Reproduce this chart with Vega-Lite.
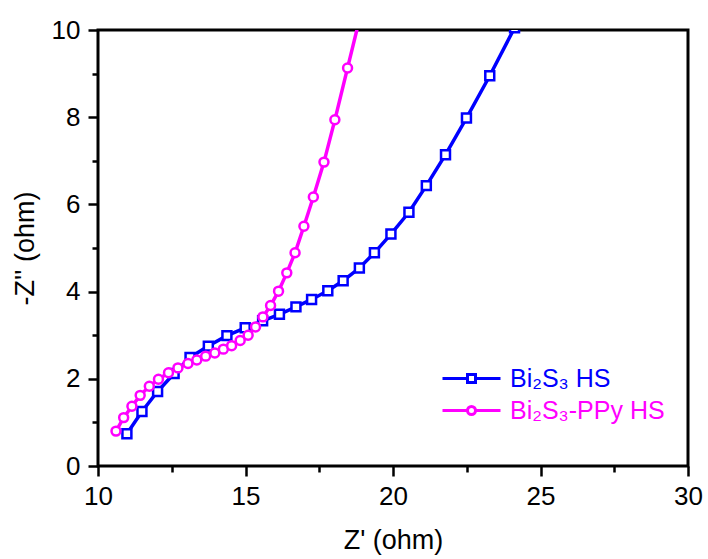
{
  "$schema": "https://vega.github.io/schema/vega-lite/v6.json",
  "width": 590,
  "height": 436,
  "autosize": "none",
  "padding": {"left": 98, "top": 30, "right": 20, "bottom": 93},
  "background": "white",
  "config": {
    "font": "Liberation Sans",
    "view": {"stroke": "black", "strokeWidth": 3},
    "axis": {"domain": false, "grid": false, "tickColor": "black", "tickWidth": 2.5, "labelFont": "Liberation Sans", "labelFontSize": 26, "labelColor": "black", "titleFont": "Liberation Sans", "titleFontSize": 27, "titleFontWeight": "normal", "titleColor": "black"}
  },
  "data": {
    "values": [
      {"s": "Bi₂S₃ HS", "i": 1, "x": 10.98, "y": 0.74},
      {"s": "Bi₂S₃ HS", "i": 2, "x": 11.49, "y": 1.25},
      {"s": "Bi₂S₃ HS", "i": 3, "x": 12.02, "y": 1.71},
      {"s": "Bi₂S₃ HS", "i": 4, "x": 12.58, "y": 2.12},
      {"s": "Bi₂S₃ HS", "i": 5, "x": 13.12, "y": 2.49},
      {"s": "Bi₂S₃ HS", "i": 6, "x": 13.74, "y": 2.75},
      {"s": "Bi₂S₃ HS", "i": 7, "x": 14.37, "y": 2.99},
      {"s": "Bi₂S₃ HS", "i": 8, "x": 14.99, "y": 3.17},
      {"s": "Bi₂S₃ HS", "i": 9, "x": 15.58, "y": 3.33},
      {"s": "Bi₂S₃ HS", "i": 10, "x": 16.15, "y": 3.48},
      {"s": "Bi₂S₃ HS", "i": 11, "x": 16.71, "y": 3.65},
      {"s": "Bi₂S₃ HS", "i": 12, "x": 17.24, "y": 3.82},
      {"s": "Bi₂S₃ HS", "i": 13, "x": 17.79, "y": 4.02},
      {"s": "Bi₂S₃ HS", "i": 14, "x": 18.31, "y": 4.25},
      {"s": "Bi₂S₃ HS", "i": 15, "x": 18.86, "y": 4.54},
      {"s": "Bi₂S₃ HS", "i": 16, "x": 19.37, "y": 4.89},
      {"s": "Bi₂S₃ HS", "i": 17, "x": 19.93, "y": 5.32},
      {"s": "Bi₂S₃ HS", "i": 18, "x": 20.54, "y": 5.82},
      {"s": "Bi₂S₃ HS", "i": 19, "x": 21.13, "y": 6.43},
      {"s": "Bi₂S₃ HS", "i": 20, "x": 21.78, "y": 7.14},
      {"s": "Bi₂S₃ HS", "i": 21, "x": 22.49, "y": 7.98},
      {"s": "Bi₂S₃ HS", "i": 22, "x": 23.28, "y": 8.95},
      {"s": "Bi₂S₃ HS", "i": 23, "x": 24.12, "y": 10.05},
      {"s": "Bi₂S₃-PPy HS", "i": 1, "x": 10.61, "y": 0.80},
      {"s": "Bi₂S₃-PPy HS", "i": 2, "x": 10.87, "y": 1.11},
      {"s": "Bi₂S₃-PPy HS", "i": 3, "x": 11.15, "y": 1.37},
      {"s": "Bi₂S₃-PPy HS", "i": 4, "x": 11.43, "y": 1.62},
      {"s": "Bi₂S₃-PPy HS", "i": 5, "x": 11.74, "y": 1.83},
      {"s": "Bi₂S₃-PPy HS", "i": 6, "x": 12.05, "y": 1.99},
      {"s": "Bi₂S₃-PPy HS", "i": 7, "x": 12.39, "y": 2.14},
      {"s": "Bi₂S₃-PPy HS", "i": 8, "x": 12.71, "y": 2.25},
      {"s": "Bi₂S₃-PPy HS", "i": 9, "x": 13.05, "y": 2.35},
      {"s": "Bi₂S₃-PPy HS", "i": 10, "x": 13.35, "y": 2.43},
      {"s": "Bi₂S₃-PPy HS", "i": 11, "x": 13.65, "y": 2.52},
      {"s": "Bi₂S₃-PPy HS", "i": 12, "x": 13.96, "y": 2.59},
      {"s": "Bi₂S₃-PPy HS", "i": 13, "x": 14.25, "y": 2.68},
      {"s": "Bi₂S₃-PPy HS", "i": 14, "x": 14.53, "y": 2.76},
      {"s": "Bi₂S₃-PPy HS", "i": 15, "x": 14.82, "y": 2.88},
      {"s": "Bi₂S₃-PPy HS", "i": 16, "x": 15.09, "y": 3.00},
      {"s": "Bi₂S₃-PPy HS", "i": 17, "x": 15.34, "y": 3.19},
      {"s": "Bi₂S₃-PPy HS", "i": 18, "x": 15.59, "y": 3.42},
      {"s": "Bi₂S₃-PPy HS", "i": 19, "x": 15.85, "y": 3.68},
      {"s": "Bi₂S₃-PPy HS", "i": 20, "x": 16.12, "y": 4.01},
      {"s": "Bi₂S₃-PPy HS", "i": 21, "x": 16.40, "y": 4.43},
      {"s": "Bi₂S₃-PPy HS", "i": 22, "x": 16.68, "y": 4.89},
      {"s": "Bi₂S₃-PPy HS", "i": 23, "x": 16.98, "y": 5.50},
      {"s": "Bi₂S₃-PPy HS", "i": 24, "x": 17.30, "y": 6.17},
      {"s": "Bi₂S₃-PPy HS", "i": 25, "x": 17.66, "y": 6.97},
      {"s": "Bi₂S₃-PPy HS", "i": 26, "x": 18.03, "y": 7.94},
      {"s": "Bi₂S₃-PPy HS", "i": 27, "x": 18.46, "y": 9.13},
      {"s": "Bi₂S₃-PPy HS", "i": 28, "x": 18.93, "y": 10.43}
    ]
  },
  "encoding": {
    "x": {
      "field": "x", "type": "quantitative",
      "scale": {"domain": [10, 30], "nice": false, "zero": false},
      "axis": {
        "title": "Z' (ohm)",
        "values": [10, 12.5, 15, 17.5, 20, 22.5, 25, 27.5, 30],
        "labelExpr": "datum.value % 5 === 0 ? datum.label : ''",
        "tickSize": {"condition": {"test": "datum.value % 5 === 0", "value": 10}, "value": 6},
        "labelPadding": 7,
        "labelFlush": false,
        "labelOverlap": false,
        "titlePadding": 18
      }
    },
    "y": {
      "field": "y", "type": "quantitative",
      "scale": {"domain": [0, 10], "nice": false},
      "axis": {
        "title": "-Z'' (ohm)",
        "values": [0, 1, 2, 3, 4, 5, 6, 7, 8, 9, 10],
        "labelExpr": "datum.value % 2 === 0 ? datum.label : ''",
        "tickSize": {"condition": {"test": "datum.value % 2 === 0", "value": 10}, "value": 6},
        "labelPadding": 8,
        "labelFlush": false,
        "labelOverlap": false,
        "titlePadding": 12
      }
    },
    "color": {
      "field": "s", "type": "nominal",
      "scale": {"domain": ["Bi₂S₃ HS", "Bi₂S₃-PPy HS"], "range": ["#0000ff", "#ff00ff"]}
    }
  },
  "layer": [
    {
      "mark": {"type": "line", "strokeWidth": 3.5, "clip": true},
      "encoding": {
        "order": {"field": "i", "type": "quantitative"},
        "color": {
          "field": "s", "type": "nominal",
          "scale": {"domain": ["Bi₂S₃ HS", "Bi₂S₃-PPy HS"], "range": ["#0000ff", "#ff00ff"]},
          "legend": {
            "title": null,
            "orient": "none",
            "legendX": 361,
            "legendY": 336,
            "symbolSize": 100,
            "symbolStrokeWidth": 3,
            "symbolFillColor": "white",
            "rowPadding": 6,
            "labelOffset": 26,
            "labelFont": "Liberation Sans",
            "labelFontSize": 25,
            "labelLimit": 300,
            "encode": {
              "symbols": {"update": {
                "shape": {"signal": "datum.value === 'Bi₂S₃ HS' ? 'M-5.8,0H-0.8M0.8,0H5.8M-0.8,-0.8H0.8V0.8H-0.8Z' : 'M-5.8,0H-0.8M0.8,0H5.8M-0.8,0A0.8,0.8 0 1,0 0.8,0A0.8,0.8 0 1,0 -0.8,0'"},
                "fill": {"value": "white"},
                "strokeWidth": {"value": 3}
              }},
              "labels": {"update": {
                "fill": {"signal": "datum.value === 'Bi₂S₃ HS' ? '#0000ff' : '#ff00ff'"}
              }}
            }
          }
        }
      }
    },
    {
      "transform": [{"filter": "datum.s === 'Bi₂S₃ HS'"}],
      "mark": {"type": "point", "shape": "square", "filled": false, "fill": "white", "fillOpacity": 1, "strokeWidth": 2.5, "size": 80, "opacity": 1, "clip": true},
      "encoding": {
        "color": {"field": "s", "type": "nominal", "legend": null}
      }
    },
    {
      "transform": [{"filter": "datum.s === 'Bi₂S₃-PPy HS'"}],
      "mark": {"type": "point", "shape": "circle", "filled": false, "fill": "white", "fillOpacity": 1, "strokeWidth": 2.5, "size": 80, "opacity": 1, "clip": true},
      "encoding": {
        "color": {"field": "s", "type": "nominal", "legend": null}
      }
    }
  ]
}
